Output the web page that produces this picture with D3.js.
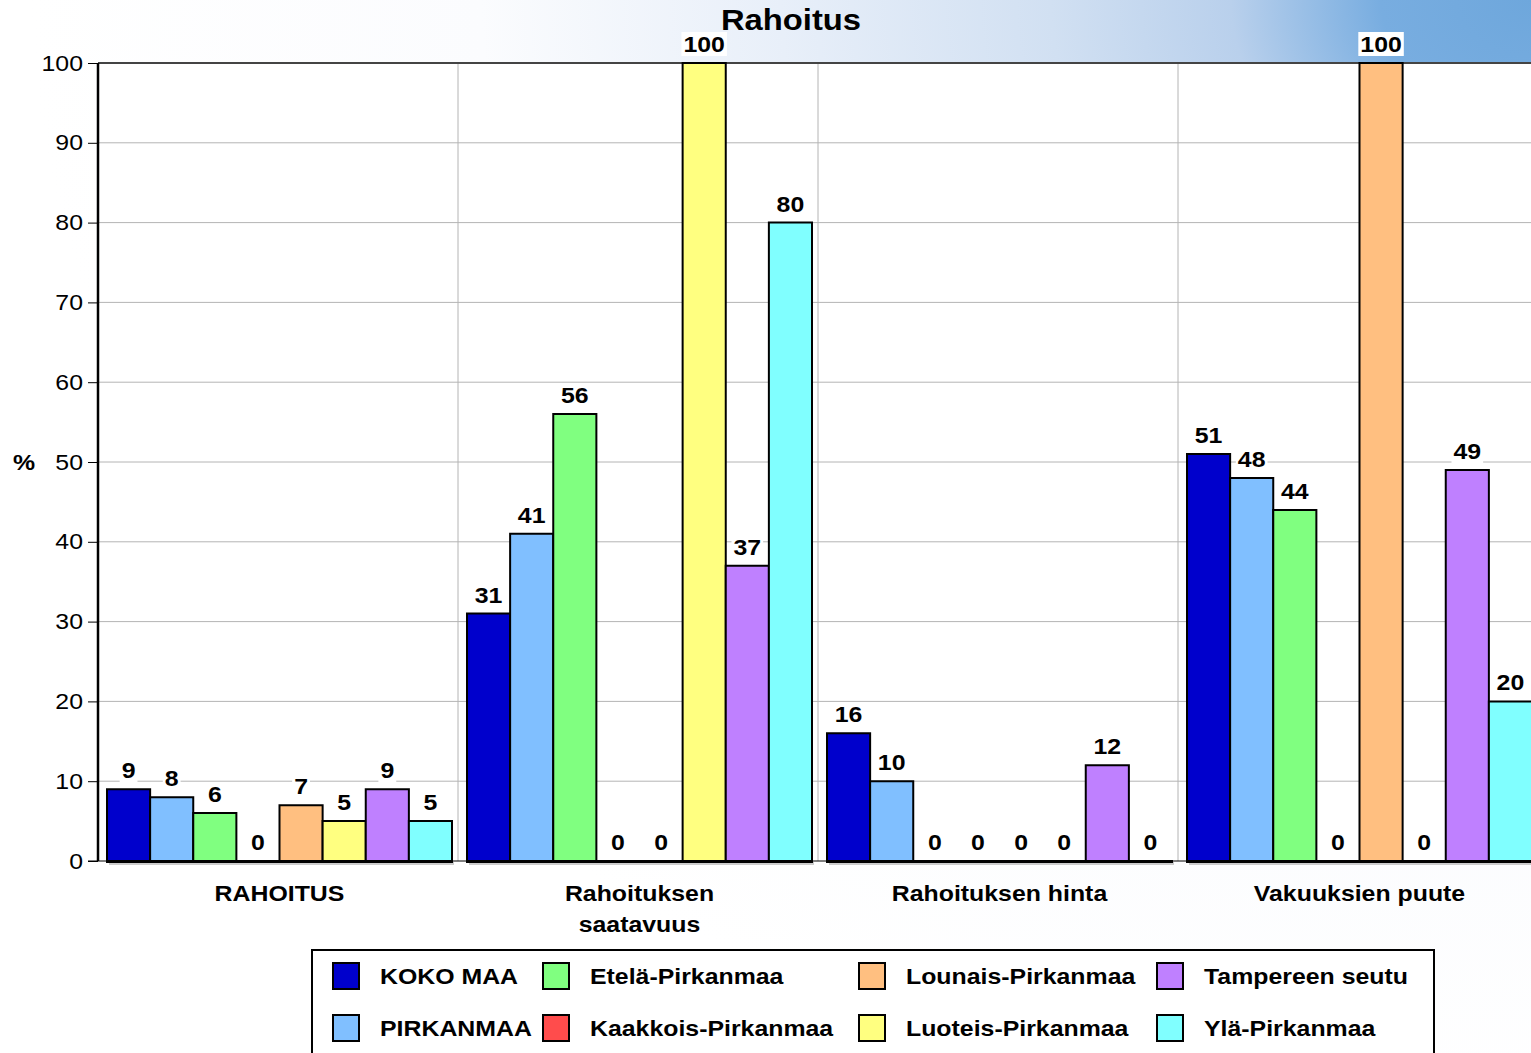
<!DOCTYPE html>
<html><head><meta charset="utf-8">
<script src="https://cdn.jsdelivr.net/npm/d3@7"></script>
<style>html,body{margin:0;padding:0;overflow:hidden;background:#fff}</style>
</head><body>
<svg id="chart" width="1531" height="1053"></svg>
<script>
const categories = ["RAHOITUS", "Rahoituksen saatavuus", "Rahoituksen hinta", "Vakuuksien puute"];
const categoryLines = [["RAHOITUS"], ["Rahoituksen", "saatavuus"], ["Rahoituksen hinta"], ["Vakuuksien puute"]];
const series = ["KOKO MAA", "PIRKANMAA", "Etelä-Pirkanmaa", "Kaakkois-Pirkanmaa", "Lounais-Pirkanmaa", "Luoteis-Pirkanmaa", "Tampereen seutu", "Ylä-Pirkanmaa"];
const colors = ["#0000CC", "#80BFFF", "#80FF80", "#FF4C4C", "#FFBF80", "#FFFF80", "#BF80FF", "#80FFFF"];
const values = {
  "KOKO MAA":           [9, 31, 16, 51],
  "PIRKANMAA":          [8, 41, 10, 48],
  "Etelä-Pirkanmaa":    [6, 56, 0, 44],
  "Kaakkois-Pirkanmaa": [0, 0, 0, 0],
  "Lounais-Pirkanmaa":  [7, 0, 0, 100],
  "Luoteis-Pirkanmaa":  [5, 100, 0, 0],
  "Tampereen seutu":    [9, 37, 12, 49],
  "Ylä-Pirkanmaa":      [5, 80, 0, 20]
};
const yTicks = [0, 10, 20, 30, 40, 50, 60, 70, 80, 90, 100];
const title = "Rahoitus";

(function () {
const svg = d3.select("#chart");
const W = 1531, H = 1053;
const pL = 98, pT = 63, pB = 861, pR = 1538;
const font = "Liberation Sans, Arial, Helvetica, sans-serif";
const SX = 1.13;

// background gradient
const defs = svg.append("defs");
const grad = defs.append("radialGradient").attr("id", "bg")
  .attr("gradientUnits", "userSpaceOnUse")
  .attr("cx", 1531).attr("cy", 0).attr("r", 1500)
  .attr("gradientTransform", "translate(1531,0) scale(1,0.75) translate(-1531,0)");
[[0, "#6ea7dc"], [0.1, "#78ade0"], [0.2, "#b9d0ec"], [0.32, "#d1e0f2"], [0.5, "#e8eff9"], [0.7, "#fbfcfe"], [1, "#ffffff"]]
  .forEach(([o, c]) => grad.append("stop").attr("offset", o).attr("stop-color", c));
svg.append("rect").attr("width", W).attr("height", H).attr("fill", "url(#bg)");

const y = d3.scaleLinear().domain([0, 100]).range([pB, pT]);
const x0 = d3.scaleBand().domain(categories).range([pL, pR]).padding(0);
const x1 = d3.scaleBand().domain(series).range([9, x0.bandwidth() - 6]).padding(0);

// helper for horizontally stretched text
function txt(parent, x, yy, s, opts) {
  const o = Object.assign({ size: 22, bold: true, anchor: "middle" }, opts || {});
  return parent.append("text")
    .attr("transform", `translate(${x},${yy}) scale(${SX},1)`)
    .attr("text-anchor", o.anchor).attr("dy", "0.36em")
    .attr("font-family", font).attr("font-size", o.size)
    .attr("font-weight", o.bold ? "bold" : "normal").attr("fill", "#000").text(s);
}

// plot background
svg.append("rect").attr("x", pL).attr("y", pT).attr("width", pR - pL).attr("height", pB - pT).attr("fill", "#fff");

// horizontal grid
svg.append("g").selectAll("line").data(yTicks.filter(d => d > 0 && d < 100)).join("line")
  .attr("x1", pL).attr("x2", pR).attr("y1", d => y(d)).attr("y2", d => y(d))
  .attr("stroke", "#b4b4b4").attr("stroke-width", 1);
// vertical grid between groups
svg.append("g").selectAll("line").data(categories.slice(1)).join("line")
  .attr("x1", d => x0(d)).attr("x2", d => x0(d)).attr("y1", pT).attr("y2", pB)
  .attr("stroke", "#b4b4b4").attr("stroke-width", 1);
// top border
svg.append("line").attr("x1", pL).attr("x2", pR).attr("y1", pT).attr("y2", pT)
  .attr("stroke", "#444").attr("stroke-width", 2);

// y axis
const yAxis = d3.axisLeft(y).tickValues(yTicks).tickSize(10).tickPadding(5);
const gy = svg.append("g").attr("transform", `translate(${pL},0)`).call(yAxis);
gy.select(".domain").attr("stroke", "#000").attr("stroke-width", 2.5).attr("d", `M0,${pT}V${pB}`);
gy.selectAll(".tick line").attr("stroke", "#000").attr("stroke-width", 1);
gy.selectAll(".tick text").attr("font-family", font).attr("font-size", 22).attr("fill", "#000")
  .attr("x", -15 / SX).attr("transform", `scale(${SX},1)`);

txt(svg, 24, 462, "%");

// x baseline
svg.append("line").attr("x1", pL - 10).attr("x2", pR).attr("y1", pB).attr("y2", pB)
  .attr("stroke", "#000").attr("stroke-width", 1);

// bars
const groups = svg.append("g").selectAll("g").data(categories).join("g")
  .attr("transform", d => `translate(${x0(d)},0)`);
const barData = (c, ci) => series.map((s, si) => ({ s, si, v: values[s][ci] }));

groups.each(function (c, ci) {
  const g = d3.select(this);
  const data = barData(c, ci);
  g.append("rect").attr("x", x1(series[0]) + 2).attr("y", pB + 1)
    .attr("width", x1.bandwidth() * series.length).attr("height", 3).attr("fill", "#999").attr("opacity", 0.5);
  g.selectAll("path.bar").data(data).join("path").attr("class", "bar")
    .attr("d", d => {
      const bx = x1(d.s), bw = x1.bandwidth(), by = y(d.v);
      return `M${bx},${pB}V${by}H${bx + bw}V${pB}Z`;
    })
    .attr("fill", d => colors[d.si]).attr("stroke", "#000").attr("stroke-width", 2).attr("stroke-linejoin", "miter");
  g.append("line").attr("x1", x1(series[0]) - 1).attr("x2", x1(series[series.length - 1]) + x1.bandwidth() + 1)
    .attr("y1", pB + 0.5).attr("y2", pB + 0.5).attr("stroke", "#000").attr("stroke-width", 3);
  data.forEach(d => {
    const lg = g.append("g");
    const cx = x1(d.s) + x1.bandwidth() / 2, cy = y(d.v) - 19;
    const t = txt(lg, cx, cy, d.v);
    const w = t.node().getBBox().width * SX;
    lg.insert("rect", "text").attr("x", cx - w / 2 - 2).attr("y", cy - 12).attr("width", w + 4).attr("height", 24).attr("fill", "#fff");
  });
});

// category labels
groups.each(function (c, ci) {
  const cx = (x1(series[0]) + x1(series[7]) + x1.bandwidth()) / 2;
  categoryLines[ci].forEach((line, li) => txt(d3.select(this), cx, 893 + li * 31, line));
});

// title
txt(svg, 791, 20, title, { size: 29 });

// legend
svg.append("rect").attr("x", 312).attr("y", 950).attr("width", 1122).attr("height", 120)
  .attr("fill", "#fff").attr("stroke", "#000").attr("stroke-width", 2);
const legCols = [333, 543, 859, 1157];
const legRows = [976, 1028];
const leg = svg.append("g").selectAll("g").data(series).join("g")
  .attr("transform", (d, i) => `translate(${legCols[Math.floor(i / 2)]},${legRows[i % 2]})`);
leg.append("rect").attr("x", 0).attr("y", -13).attr("width", 26).attr("height", 26)
  .attr("fill", (d, i) => colors[i]).attr("stroke", "#000").attr("stroke-width", 2);
leg.each(function (d) { txt(d3.select(this), 47, 0, d, { anchor: "start" }); });
})();
</script>
</body></html>
